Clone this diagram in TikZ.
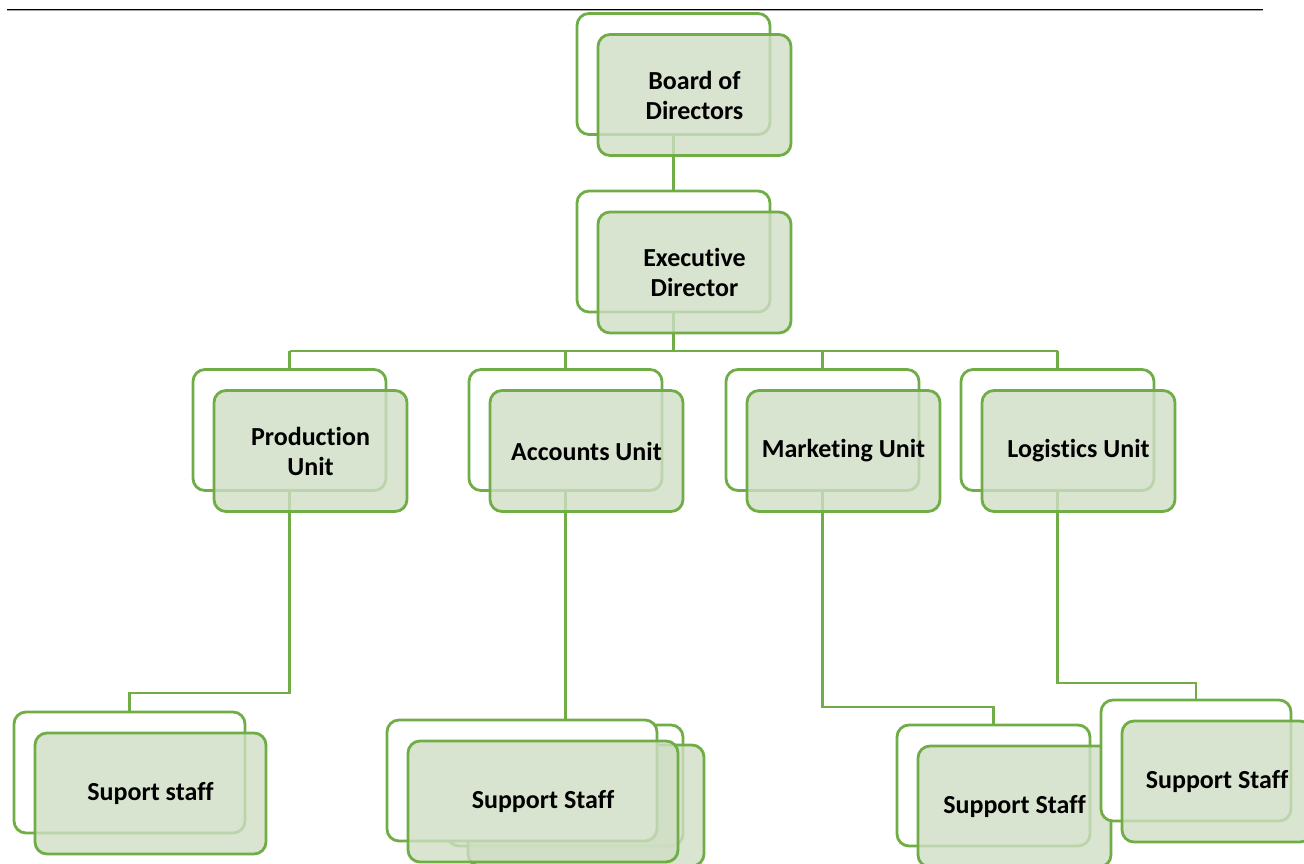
\documentclass[tikz,border=0pt]{standalone}
\usepackage{fontspec}
\setmainfont{Carlito}[Ligatures={NoCommon,NoContextual}]
\usetikzlibrary{backgrounds}
\definecolor{orgline}{RGB}{112,173,71}
\definecolor{orgfill}{RGB}{207,222,196}
\definecolor{ruleshade}{RGB}{165,165,165}
\begin{document}
\begin{tikzpicture}[x=1pt,y=-1pt,
  backbox/.style={draw=orgline, line width=2.8pt, rounded corners=12pt, fill=white,
    minimum width=#1, minimum height=121pt, inner sep=0pt},
  frontbox/.style={draw=orgline, line width=2.8pt, rounded corners=12pt, fill=orgfill,
    fill opacity=0.8, text opacity=1, minimum width=#1, minimum height=121pt, inner sep=0pt,
    font=\bfseries\fontsize{26}{30}\selectfont, align=center, text=black},
  link/.style={draw=orgline, line width=2.8pt}]
\useasboundingbox (0,0) rectangle (1304,864);

% header rule
\draw[ruleshade, line width=1pt] (7,10.8) -- (1263,10.8);
\draw[black, line width=1.2pt] (7,9.4) -- (1263,9.4);

% top levels
\node[backbox=193pt] (bodB) at (673.5,74) {};
\node[frontbox=193pt] (bodF) at (694.5,95) {Board of\\Directors};
\node[backbox=193pt] (exeB) at (673.5,251.5) {};
\node[frontbox=193pt] (exeF) at (694.5,272.5) {Executive\\Director};

% units
\node[backbox=193pt] (proB) at (289.5,430) {};
\node[frontbox=193pt] (proF) at (310.5,451) {Production\\Unit};
\node[backbox=193pt] (accB) at (565.5,430) {};
\node[frontbox=193pt] (accF) at (586.5,451) {Accounts Unit};
\node[backbox=193pt] (mktB) at (822.5,430) {};
\node[frontbox=193pt] (mktF) at (843.5,451) {Marketing Unit};
\node[backbox=193pt] (logB) at (1057.5,430) {};
\node[frontbox=193pt] (logF) at (1078.5,451) {Logistics Unit};

% staff
\node[backbox=231pt] (stPB) at (129.5,772.5) {};
\node[frontbox=231pt] (stPF) at (150.5,793.5) {Suport staff};

\node[backbox=236pt] (stAB2) at (565,785.5) {};
\node[frontbox=236pt] (stAF2) at (586,805.5) {};
\node[backbox=270pt] (stAB) at (522,780.5) {};
\node[frontbox=270pt] (stAF) at (543,801.5) {Support Staff};

\node[backbox=193pt] (stMB) at (993.5,785.5) {};
\node[frontbox=193pt] (stMF) at (1014.5,806.5) {Support Staff};

\node[backbox=190pt] (stLB) at (1196,760.5) {};
\node[frontbox=190pt] (stLF) at (1217,781.5) {Support Staff};

% connectors
\coordinate (busY) at (0,351);
\coordinate (proY) at (0,693);
\coordinate (mktY) at (0,707);
\coordinate (logY) at (0,683);
\begin{pgfonlayer}{background}
\draw[link] (bodB.south) -- (exeB.north);
\draw[link] (exeB.south) -- (exeB.south |- busY);
\draw[link] (proB.north |- busY) -- (logB.north |- busY);
\draw[link] (proB.north |- busY) -- (proB.north);
\draw[link] (accB.north |- busY) -- (accB.north);
\draw[link] (mktB.north |- busY) -- (mktB.north);
\draw[link] (logB.north |- busY) -- (logB.north);
\draw[link] (proB.south) -- (proB.south |- proY) -- (stPB.north |- proY) -- (stPB.north);
\draw[link] (accB.south) -- (accB.south |- stAB.north);
\draw[link] (mktB.south) -- (mktB.south |- mktY) -- (stMB.north |- mktY) -- (stMB.north);
\draw[link] (logB.south) -- (logB.south |- logY) -- (stLB.north |- logY) -- (stLB.north);
\end{pgfonlayer}
\end{tikzpicture}
\end{document}
